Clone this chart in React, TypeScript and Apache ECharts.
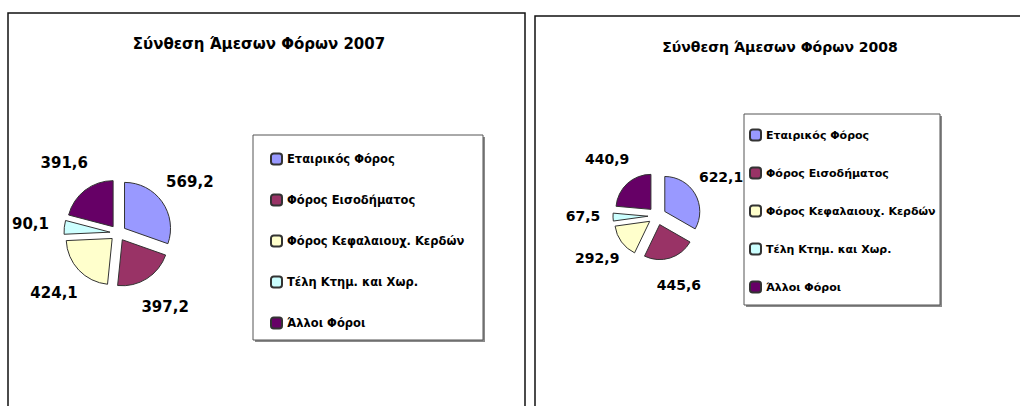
import React, { useEffect, useRef } from "react";
import * as echarts from "echarts";

const categories = [
  "Εταιρικός Φόρος",
  "Φόρος Εισοδήματος",
  "Φόρος Κεφαλαιουχ. Κερδών",
  "Τέλη Κτημ. και Χωρ.",
  "Άλλοι Φόροι",
];
const values2007 = [569.2, 397.2, 424.1, 90.1, 391.6];
const values2008 = [622.1, 445.6, 292.9, 67.5, 440.9];
const colors = ["#9999FF", "#993366", "#FFFFCC", "#CCFFFF", "#660066"];
const title2007 = "Σύνθεση Άμεσων Φόρων 2007";
const title2008 = "Σύνθεση Άμεσων Φόρων 2008";

const FONT = "'DejaVu Sans', sans-serif";
const fmt = (v: number) => v.toFixed(1).replace(".", ",");

function pieData(values: number[], selected: boolean) {
  return categories.map((name, i) => ({
    name,
    value: values[i],
    selected,
    itemStyle: { color: colors[i] },
  }));
}

function realPie(values: number[], center: number[], radius: number, offset: number) {
  return {
    type: "pie",
    center,
    radius,
    startAngle: 90,
    clockwise: true,
    selectedMode: "multiple",
    selectedOffset: offset,
    label: { show: false },
    labelLine: { show: false },
    itemStyle: { borderColor: "#333", borderWidth: 1 },
    emphasis: { disabled: true },
    silent: true,
    data: pieData(values, true),
  };
}

function labelPie(values: number[], center: number[], radius: number, fontSize: number) {
  return {
    type: "pie",
    center,
    radius,
    startAngle: 90,
    clockwise: true,
    silent: true,
    emphasis: { disabled: true },
    itemStyle: { color: "rgba(0,0,0,0)", borderWidth: 0 },
    label: {
      show: true,
      position: "inside",
      color: "#000",
      fontFamily: FONT,
      fontWeight: "bold",
      fontSize,
      formatter: (p: any) => fmt(p.value),
    },
    labelLine: { show: false },
    data: categories.map((name, i) => ({
      name,
      value: values[i],
      itemStyle: { color: "rgba(0,0,0,0)" },
    })),
  };
}

function legendBox(x: number, y: number, w: number, h: number) {
  return [
    {
      type: "rect",
      shape: { x: x + 2, y: y + 2, width: w, height: h },
      style: { fill: "#8a8a8a" },
      z: -2,
    },
    {
      type: "rect",
      shape: { x, y, width: w, height: h },
      style: { fill: "#fff", stroke: "#555", lineWidth: 1 },
      z: -1,
    },
  ];
}

function legend(left: number, top: number, gap: number, fontSize: number) {
  return {
    orient: "vertical",
    left,
    top,
    itemWidth: 11,
    itemHeight: 11,
    itemGap: gap,
    selectedMode: false,
    data: categories,
    textStyle: {
      fontFamily: FONT,
      fontWeight: "bold",
      fontSize,
      color: "#000",
      lineHeight: 14,
    },
  };
}

export default function App() {
  const ref = useRef<HTMLDivElement>(null);
  useEffect(() => {
    if (!ref.current) return;
    const chart = echarts.init(ref.current, null, { renderer: "svg" });
    chart.setOption({
      animation: false,
      backgroundColor: "#fff",
      graphic: [
        {
          type: "rect",
          shape: { x: 8, y: 13, width: 517, height: 430 },
          style: { fill: "none", stroke: "#111", lineWidth: 1.5 },
        },
        {
          type: "rect",
          shape: { x: 535, y: 16, width: 520, height: 430 },
          style: { fill: "none", stroke: "#111", lineWidth: 1.5 },
        },
        ...legendBox(253, 135, 230, 205),
        ...legendBox(744, 114, 196, 191),
        {
          type: "text",
          x: 259,
          y: 44,
          style: {
            text: title2007,
            fill: "#000",
            font: `bold 15px ${FONT}`,
            textAlign: "center",
            textVerticalAlign: "middle",
          },
        },
        {
          type: "text",
          x: 780,
          y: 47,
          style: {
            text: title2008,
            fill: "#000",
            font: `bold 14px ${FONT}`,
            textAlign: "center",
            textVerticalAlign: "middle",
          },
        },
      ],
      legend: [legend(265, 147, 27, 11.5), legend(744, 123, 24, 11)],
      series: [
        realPie(values2007, [118, 233], 46, 8),
        realPie(values2008, [657, 216], 35, 9),
        labelPie(values2007, [118, 233], 170, 15),
        labelPie(values2008, [657, 214], 142, 14),
      ],
    });
    return () => chart.dispose();
  }, []);
  return (
    <div
      ref={ref}
      style={{ position: "fixed", left: 0, top: 0, width: 1020, height: 406 }}
    />
  );
}
